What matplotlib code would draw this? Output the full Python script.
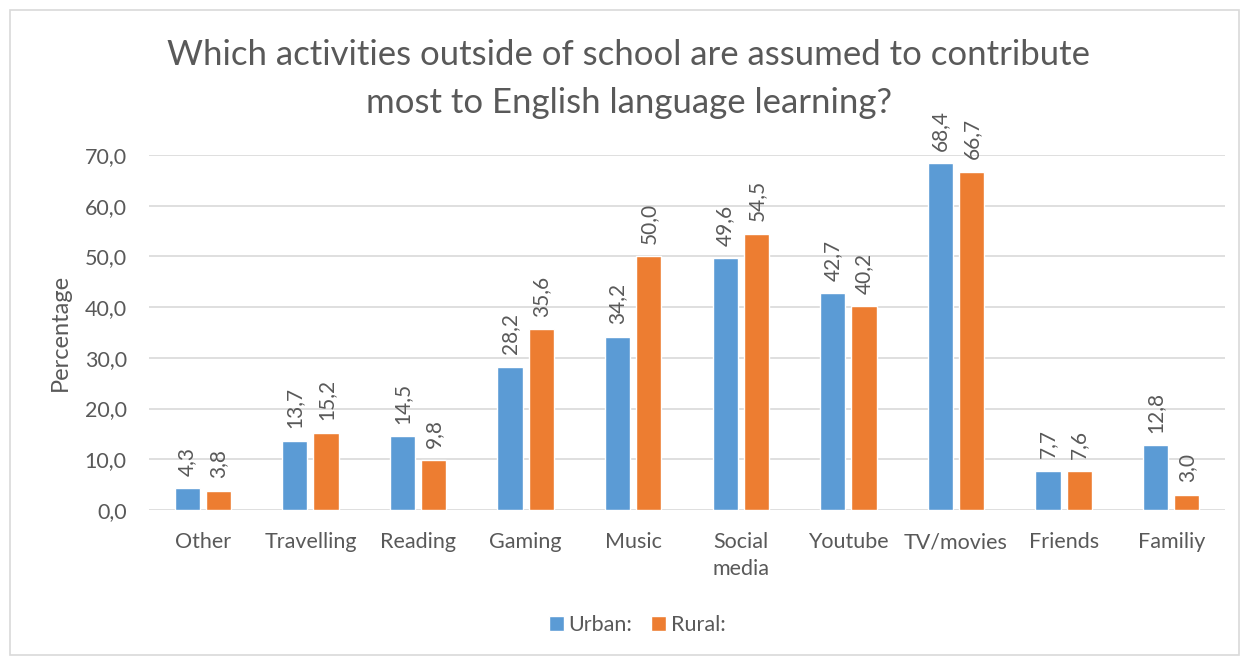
import matplotlib.pyplot as plt
import numpy as np
from matplotlib.patches import Rectangle

categories = ["Other", "Travelling", "Reading", "Gaming", "Music",
              "Social\nmedia", "Youtube", "TV/movies", "Friends", "Familiy"]
urban = [4.3, 13.7, 14.5, 28.2, 34.2, 49.6, 42.7, 68.4, 7.7, 12.8]
rural = [3.8, 15.2, 9.8, 35.6, 50.0, 54.5, 40.2, 66.7, 7.6, 3.0]
yticks = [0, 10, 20, 30, 40, 50, 60, 70]
title_lines = ["Which activities outside of school are assumed to contribute",
               "most to English language learning?"]

BLUE = "#5B9BD5"
ORANGE = "#ED7D31"
TXT = "#595959"

plt.rcParams['font.family'] = ['Lato', 'DejaVu Sans']

W, H = 1241, 656
fig = plt.figure(figsize=(W / 100, H / 100), dpi=100)
fig.patches.append(Rectangle((10/W, 1/H), 1229/W, 645/H,
                             transform=fig.transFigure, fill=False,
                             edgecolor="#D9D9D9", linewidth=1.2))
ax = fig.add_axes([149/W, 1 - 510/H, 1076/W, 355/H])

x = np.arange(len(categories))
w = 0.235
off = 0.145
b1 = ax.bar(x - off, urban, w, color=BLUE, edgecolor="white", linewidth=1, zorder=3)
b2 = ax.bar(x + off, rural, w, color=ORANGE, edgecolor="white", linewidth=1, zorder=3)

def fmt(v):
    return f"{v:.1f}".replace(".", ",")

for bars, vals in ((b1, urban), (b2, rural)):
    for r, v in zip(bars, vals):
        ax.annotate(fmt(v), (r.get_x() + r.get_width() / 2, v),
                    xytext=(0, 9), textcoords="offset points",
                    rotation=90, ha="center", va="bottom",
                    fontsize=15, color=TXT)

ax.set_xlim(-0.5, len(categories) - 0.5)
ax.set_ylim(0, 70)
ax.set_yticks(yticks)
ax.set_yticklabels([fmt(v) for v in yticks])
ax.set_xticks(x)
ax.set_xticklabels(categories, linespacing=1.4)
ax.tick_params(axis="both", length=0, labelsize=15.5, labelcolor=TXT)
ax.tick_params(axis="x", pad=16)
ax.tick_params(axis="y", pad=16)
ax.yaxis.grid(True, color="#D9D9D9", linewidth=1.2, zorder=0)
for s in ax.spines.values():
    s.set_visible(False)

ax.set_ylabel("Percentage", fontsize=17, color=TXT, labelpad=10)

# two-line title, one text per line
for line, base in zip(title_lines, (65, 113)):
    fig.text(0.5 + 8/W, 1 - base/H, line, ha="center", va="baseline",
             fontsize=25, color=TXT)

fig.legend([b1, b2], ["Urban:", "Rural:"], loc="center",
           bbox_to_anchor=(637/W, 1 - 625/H), ncol=2, frameon=False,
           fontsize=15.5, labelcolor=TXT, handlelength=0.7, handleheight=0.7,
           handletextpad=0.2, columnspacing=0.9)

fig.savefig("out.png", dpi=100)
